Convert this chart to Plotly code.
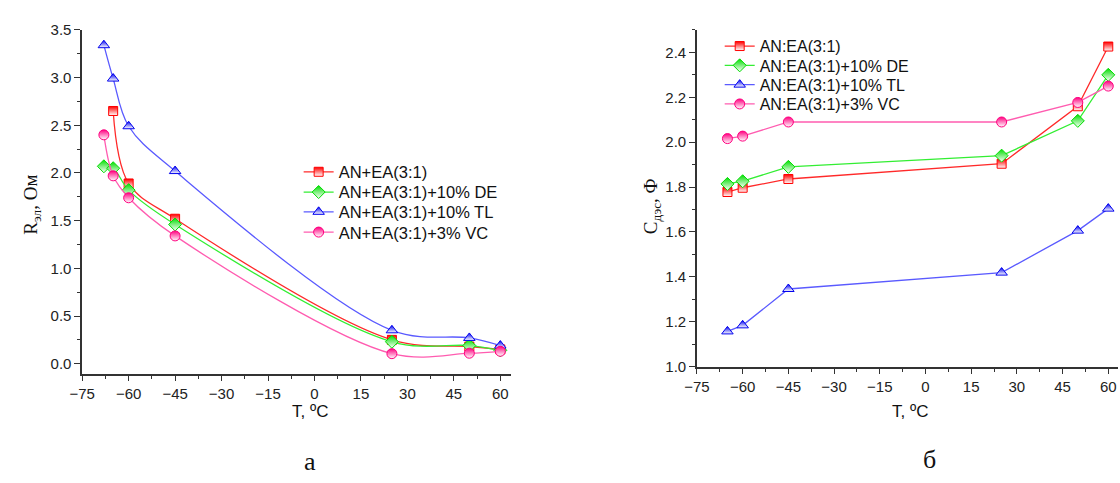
import plotly.graph_objects as go

# ---------------- data ----------------
T_left = [-68, -65, -60, -45, 25, 50, 60]
T_left_red = [-65, -60, -45, 25, 50, 60]
R_red = [2.65, 1.89, 1.52, 0.25, 0.18, 0.15]
R_green = [2.07, 2.05, 1.82, 1.46, 0.23, 0.19, 0.14]
R_blue = [3.34, 2.99, 2.49, 2.02, 0.35, 0.27, 0.19]
R_pink = [2.40, 1.97, 1.74, 1.34, 0.105, 0.11, 0.13]

T_right = [-65, -60, -45, 25, 50, 60]
C_red = [1.778, 1.797, 1.836, 1.904, 2.16, 2.426]
C_green = [1.814, 1.826, 1.89, 1.94, 2.095, 2.30]
C_blue = [1.157, 1.184, 1.346, 1.419, 1.606, 1.704]
C_pink = [2.016, 2.027, 2.09, 2.09, 2.177, 2.25]

names_left = ["AN+EA(3:1)", "AN+EA(3:1)+10% DE", "AN+EA(3:1)+10% TL", "AN+EA(3:1)+3% VC"]
names_right = ["AN:EA(3:1)", "AN:EA(3:1)+10% DE", "AN:EA(3:1)+10% TL", "AN:EA(3:1)+3% VC"]

x_ticks = [-75, -60, -45, -30, -15, 0, 15, 30, 45, 60]

# ---------------- styles ----------------
line_cols = ["#ff2a2a", "#33ee33", "#5a5aff", "#ff5cb0"]
mark_cols = ["#ff0000", "#00dd00", "#0000ee", "#ff0080"]
symbols = ["square", "diamond", "triangle-up", "circle"]
msize = [9, 10, 10, 10]

W, H = 1120, 483
left_rows = [169, 190, 210.5, 231.5]
right_rows = [38.5, 58.5, 78.5, 98.5]

fig = go.Figure()

left_x = [T_left_red, T_left, T_left, T_left]
left_y = [R_red, R_green, R_blue, R_pink]
for i in range(4):
    fig.add_trace(go.Scatter(
        x=left_x[i], y=left_y[i], name=names_left[i], mode="lines+markers",
        line=dict(color=line_cols[i], width=1.3, shape="spline", smoothing=1.0),
        marker=dict(symbol=symbols[i], size=msize[i], color=mark_cols[i],
                    gradient=dict(type="vertical", color="white"),
                    line=dict(color=mark_cols[i], width=1)),
        xaxis="x", yaxis="y", legend="legend" if i == 0 else f"legend{i + 1}"))

right_y = [C_red, C_green, C_blue, C_pink]
for i in range(4):
    fig.add_trace(go.Scatter(
        x=T_right, y=right_y[i], name=names_right[i], mode="lines+markers",
        line=dict(color=line_cols[i], width=1.3),
        marker=dict(symbol=symbols[i], size=msize[i], color=mark_cols[i],
                    gradient=dict(type="vertical", color="white"),
                    line=dict(color=mark_cols[i], width=1)),
        xaxis="x2", yaxis="y2", legend=f"legend{i + 5}"))

axis_common = dict(showline=True, linecolor="#333333", linewidth=1.5, ticks="outside",
                   ticklen=6, tickwidth=1.3, tickcolor="#333333", showgrid=False,
                   zeroline=False, tickfont=dict(family="Arial, Liberation Sans", size=15, color="#222222"))

legends = {}
for i in range(4):
    key = "legend" if i == 0 else f"legend{i + 1}"
    legends[key] = dict(x=289 / W, y=1 - left_rows[i] / H, xanchor="left", yanchor="middle",
                        bgcolor="rgba(0,0,0,0)", borderwidth=0,
                        font=dict(family="Arial, Liberation Sans", size=16.5, color="#111111"),
                        itemwidth=30)
    legends[f"legend{i + 5}"] = dict(x=715 / W, y=1 - right_rows[i] / H, xanchor="left", yanchor="middle",
                                     bgcolor="rgba(0,0,0,0)", borderwidth=0,
                                     font=dict(family="Arial, Liberation Sans", size=16, color="#111111"),
                                     itemwidth=30)

fig.update_layout(
    width=W, height=H, margin=dict(l=0, r=0, t=0, b=0),
    paper_bgcolor="white", plot_bgcolor="white",
    xaxis=dict(domain=[70 / W, 504 / W], range=[-75, 63.5], tickvals=x_ticks,
               minor=dict(dtick=7.5, tick0=-75, ticks="outside", ticklen=3.5, tickcolor="#333333"),
               anchor="y", **axis_common),
    yaxis=dict(domain=[1 - 378 / H, 1 - 21.7 / H], range=[-0.105, 3.5], dtick=0.5, tick0=0,
               tickformat=".1f",
               minor=dict(dtick=0.25, tick0=0, ticks="outside", ticklen=3.5, tickcolor="#333333"),
               anchor="x", **axis_common),
    xaxis2=dict(domain=[692 / W, 1118 / W], range=[-75, 63.2], tickvals=x_ticks,
                minor=dict(dtick=7.5, tick0=-75, ticks="outside", ticklen=3.5, tickcolor="#333333"),
                anchor="y2", **axis_common),
    yaxis2=dict(domain=[1 - 370.7 / H, 1 - 21.7 / H], range=[1.0, 2.5], dtick=0.2, tick0=1.0,
                tickformat=".1f",
                minor=dict(dtick=0.1, tick0=1.0, ticks="outside", ticklen=3.5, tickcolor="#333333"),
                anchor="x2", **axis_common),
    showlegend=True,
    **legends,
)

serif = "Liberation Serif, Times New Roman, serif"
sans = "Arial, Liberation Sans"
ann = [
    dict(text="R<sub>эл</sub>, Ом", x=19 / W, y=1 - 203 / H, textangle=-90, font=dict(family=serif, size=19, color="#111111")),
    dict(text="C<sub>дэс</sub>, Ф", x=646 / W, y=1 - 205 / H, textangle=-90, font=dict(family=serif, size=19, color="#111111")),
    dict(text="T, ºC", x=300 / W, y=1 - 417 / H, font=dict(family=sans, size=17, color="#111111")),
    dict(text="T, ºC", x=908 / W, y=1 - 417 / H, font=dict(family=sans, size=17, color="#111111")),
    dict(text="а", x=300 / W, y=1 - 469 / H, font=dict(family=serif, size=26, color="#111111")),
    dict(text="б", x=927 / W, y=1 - 467 / H, font=dict(family=serif, size=26, color="#111111")),
]
for a in ann:
    fig.add_annotation(xref="paper", yref="paper", showarrow=False, xanchor="center", yanchor="middle", **a)

fig.write_html("out.html")
